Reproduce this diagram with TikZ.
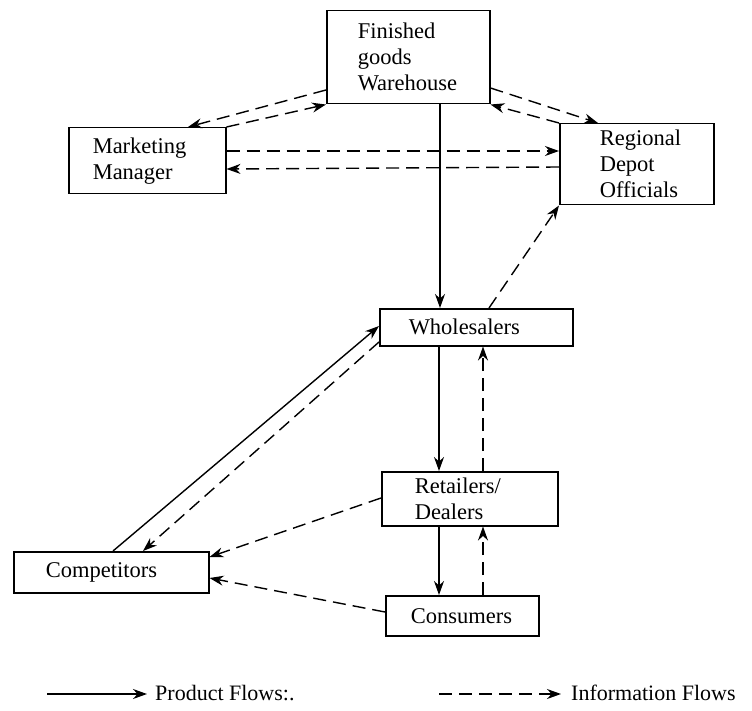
\documentclass[tikz,border=0pt]{standalone}
\usepackage{fontspec}
\setmainfont{Liberation Serif}
\usetikzlibrary{arrows.meta}
\begin{document}
\begin{tikzpicture}[x=1pt,y=-1pt,
  box/.style={draw, line width=1.5pt, anchor=north west, align=left, font=\fontsize{22.5}{26}\selectfont, inner ysep=0pt},
  prod/.style={line width=1.4pt, -{Stealth[length=14pt,width=10pt]}},
  info/.style={line width=1.4pt, dash pattern=on 13pt off 7pt, -{Stealth[length=14pt,width=10pt]}},
  lab/.style={font=\fontsize{22}{26}\selectfont, inner sep=0pt}]
\useasboundingbox (0,0) rectangle (752,711);
% boxes
\node[box, minimum width=163pt, minimum height=93pt, inner xsep=31pt, text width=101pt] (fgw) at (326,10) {Finished\\goods\\Warehouse};
\node[box, minimum width=157pt, minimum height=66pt, inner xsep=24pt, text width=109pt] (mm) at (68,127) {Marketing\\Manager};
\node[box, minimum width=154pt, minimum height=81pt, inner xsep=40pt, text width=74pt] (rdo) at (559,123) {Regional\\Depot\\Officials};
\node[box, minimum width=193pt, minimum height=37pt, inner xsep=29pt, text width=135pt] (ws) at (379,308) {Wholesalers};
\node[box, minimum width=176pt, minimum height=54pt, inner xsep=33pt, text width=110pt] (rd) at (381,471) {Retailers/\\Dealers};
\node[box, minimum width=153pt, minimum height=40pt, inner xsep=25pt, text width=103pt] (cons) at (385,595) {Consumers};
\node[box, minimum width=195pt, minimum height=41pt, inner xsep=32pt, text width=131pt] (comp) at (13,551) {Competitors};
% helper coordinates
\coordinate (wsx) at ([xshift=61pt]ws.north west);
\coordinate (rdx1) at ([xshift=58pt]rd.north west);
\coordinate (rdx2) at ([xshift=102pt]rd.north west);
\coordinate (cx1) at ([xshift=54pt]cons.north west);
\coordinate (cx2) at ([xshift=98pt]cons.north west);
% connectors top
\draw[info] ([yshift=-80pt]fgw.north west) -- ([xshift=120pt]mm.north west);
\draw[info] (mm.north east) -- (fgw.south west);
\draw[info] ([yshift=-24pt]mm.north east) -- ([yshift=-28pt]rdo.north west);
\draw[info] ([yshift=-44pt]rdo.north west) -- ([yshift=-42pt]mm.north east);
\draw[info] ([yshift=-78pt]fgw.north east) -- ([xshift=39pt]rdo.north west);
\draw[info] (rdo.north west) -- (fgw.south east);
\draw[prod] (fgw.south -| wsx) -- (wsx);
\draw[info] ([xshift=110pt]ws.north west) -- (rdo.south west);
% middle chain
\draw[prod] (ws.south -| rdx1) -- (rdx1);
\draw[info] (rdx2) -- (ws.south -| rdx2);
\draw[prod] (rd.south -| cx1) -- (cx1);
\draw[info] (cx2) -- (rd.south -| cx2);
% competitors
\draw[prod] ([xshift=100pt]comp.north west) -- ([yshift=-18pt]ws.north west);
\draw[info] ([yshift=-34pt]ws.north west) -- ([xshift=130pt]comp.north west);
\draw[info] ([yshift=-27pt]rd.north west) -- ([yshift=-6pt]comp.north east);
\draw[info] ([yshift=-17pt]cons.north west) -- ([yshift=-27pt]comp.north east);
% legend
\node[lab, anchor=west] (lp) at (155,693) {Product Flows:.};
\coordinate (lps) at (47,694);
\draw[prod, shorten >=8pt] (lps) -- (lps -| lp.west);
\node[lab, anchor=west] (li) at (571,693) {Information Flows};
\coordinate (lis) at (439,694);
\draw[info, shorten >=10pt] (lis) -- (lis -| li.west);
\end{tikzpicture}
\end{document}
